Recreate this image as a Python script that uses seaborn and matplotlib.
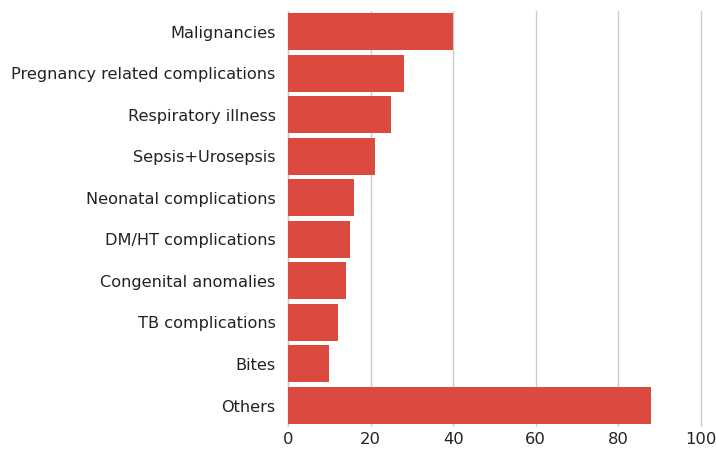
import matplotlib
matplotlib.use("Agg")
import matplotlib.pyplot as plt
import seaborn as sns
import pandas as pd

causes = [
    "Malignancies",
    "Pregnancy related complications",
    "Respiratory illness",
    "Sepsis+Urosepsis",
    "Neonatal complications",
    "DM/HT complications",
    "Congenital anomalies",
    "TB complications",
    "Bites",
    "Others",
]
counts = [40, 28, 25, 21, 16, 15, 14, 12, 10, 88]
x_ticks = [0, 20, 40, 60, 80, 100]

df = pd.DataFrame({"cause": causes, "count": counts})

sns.set_theme(style="white")
plt.rcParams["font.family"] = ["DejaVu Sans"]

fig = plt.figure(figsize=(7.16, 4.49), dpi=100)
ax = fig.add_axes([0.4025, 0.0506, 0.576, 0.9254])

sns.barplot(data=df, x="count", y="cause", orient="h", color="#dc4a3f",
            saturation=1, width=0.89, linewidth=0, ax=ax, zorder=3)

ax.set_xlim(0, 100)
ax.set_xticks(x_ticks)
ax.set_ylim(len(causes) - 0.5, -0.5)
ax.grid(axis="x", color="#cccccc", linewidth=1, zorder=0)
ax.grid(axis="y", visible=False)
for line in ax.get_xgridlines():
    line.set_clip_on(False)
for side in ["top", "right", "bottom"]:
    ax.spines[side].set_visible(False)
ax.spines["left"].set_color("#cccccc")
ax.spines["left"].set_linewidth(1)
ax.set_xlabel("")
ax.set_ylabel("")
ax.tick_params(axis="y", length=0, pad=9, labelsize=11.6, labelcolor="#222222")
ax.tick_params(axis="x", length=0, pad=4, labelsize=11.8, labelcolor="#222222")

fig.savefig("out.png", dpi=100)
